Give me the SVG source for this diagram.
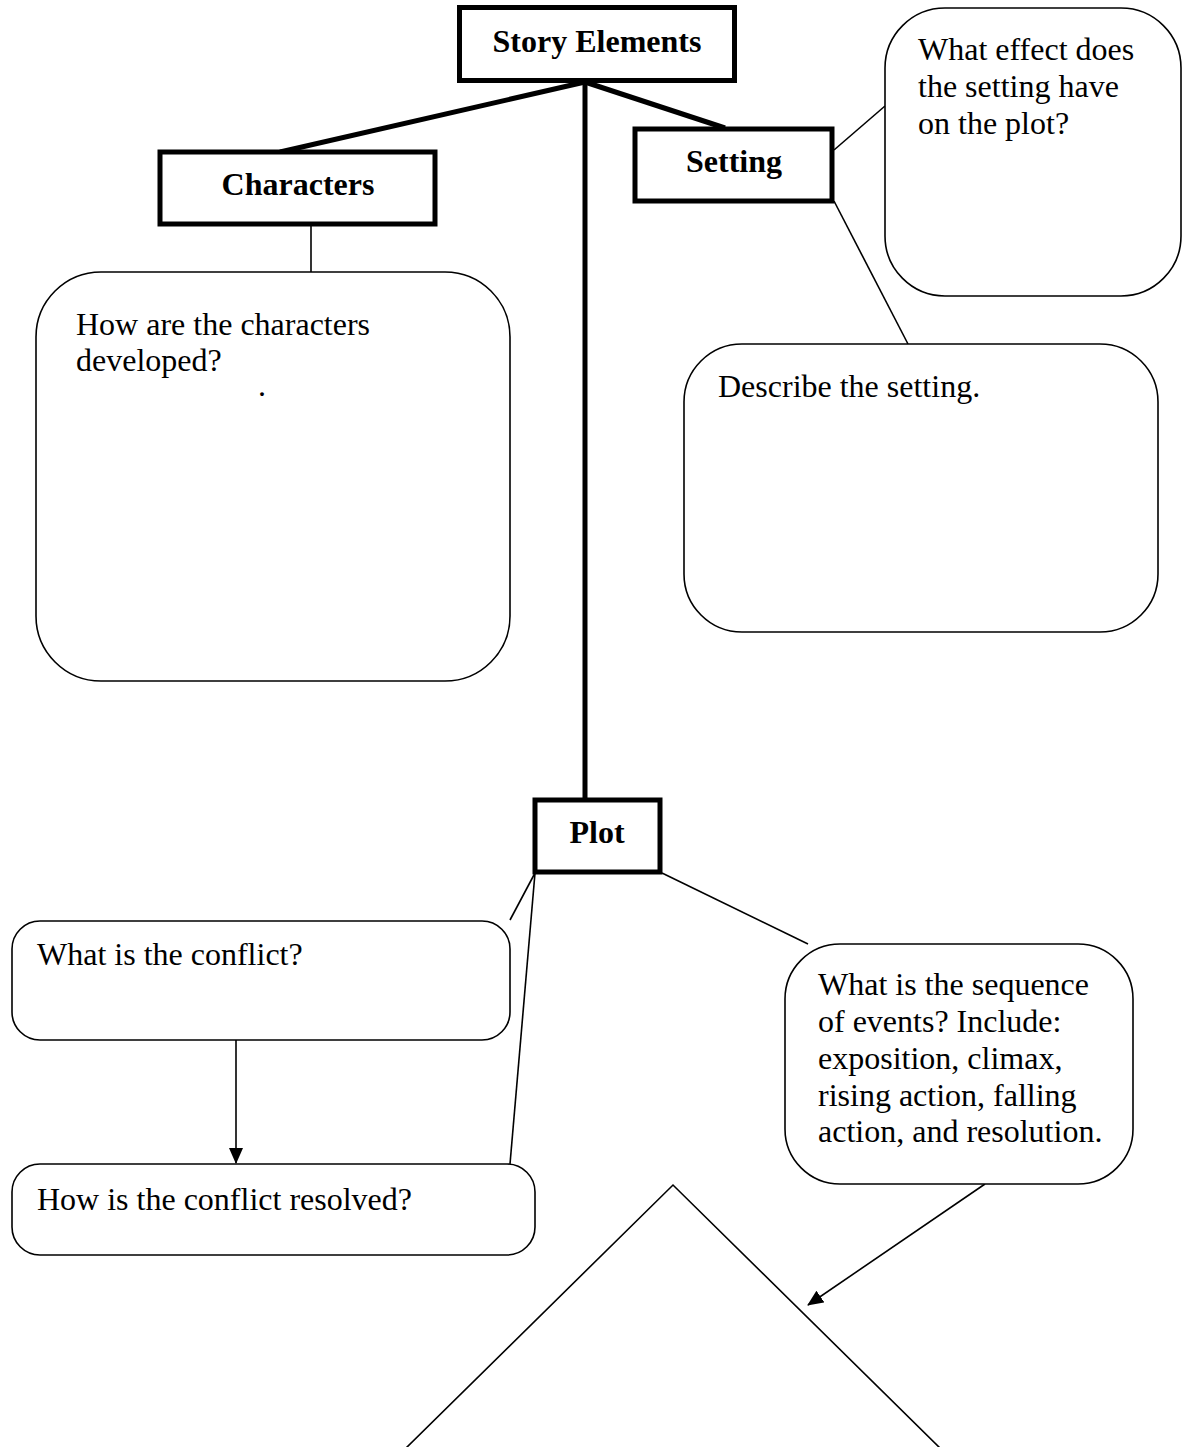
<svg xmlns="http://www.w3.org/2000/svg" width="1183" height="1447" viewBox="0 0 1183 1447">
<style>
  .bold { font-family: "Liberation Serif", "Times New Roman", serif; font-weight: bold; font-size: 32px; fill: #000; text-anchor: middle; }
  .q { font-family: "Liberation Serif", "Times New Roman", serif; font-size: 32px; fill: #000; }
  .thickbox { fill: #fff; stroke: #000; stroke-width: 5; }
  .round { fill: #fff; stroke: #000; stroke-width: 1.6; }
  .thick { stroke: #000; stroke-width: 5; fill: none; }
  .thin { stroke: #000; stroke-width: 1.6; fill: none; }
</style>
<defs>
  <marker id="arrow" markerWidth="16" markerHeight="14" refX="15" refY="7" orient="auto" markerUnits="userSpaceOnUse">
    <path d="M0,0 L16,7 L0,14 z" fill="#000"/>
  </marker>
</defs>
<rect width="1183" height="1447" fill="#fff"/>
<g id="connectors">
  <line class="thick" x1="585" y1="82" x2="280" y2="152"/>
  <line class="thick" x1="585" y1="82" x2="725" y2="128"/>
  <line class="thick" x1="585" y1="82" x2="585" y2="800"/>
  <line class="thin" x1="311" y1="226" x2="311" y2="272"/>
  <line class="thin" x1="834" y1="150" x2="885" y2="106"/>
  <line class="thin" x1="834" y1="201" x2="908" y2="344"/>
  <line class="thin" x1="535" y1="873" x2="510" y2="920"/>
  <line class="thin" x1="535" y1="873" x2="510" y2="1164"/>
  <line class="thin" x1="662" y1="873" x2="808" y2="944"/>
  <line class="thin" x1="236" y1="1040" x2="236" y2="1163" stroke-width="2" marker-end="url(#arrow)"/>
  <line class="thin" x1="985" y1="1184" x2="808" y2="1305" stroke-width="2" marker-end="url(#arrow)"/>
</g>
<g id="story-elements">
  <rect class="thickbox" x="459.5" y="7.5" width="275" height="73"/>
  <text class="bold" x="597" y="52">Story Elements</text>
</g>
<g id="characters">
  <rect class="thickbox" x="160" y="152" width="275" height="72"/>
  <text class="bold" x="298" y="195">Characters</text>
</g>
<g id="setting">
  <rect class="thickbox" x="635" y="129" width="197" height="72"/>
  <text class="bold" x="734" y="172">Setting</text>
</g>
<g id="plot">
  <rect class="thickbox" x="535" y="800" width="125" height="72"/>
  <text class="bold" x="597" y="843">Plot</text>
</g>
<g id="characters-question">
  <rect class="round" x="36" y="272" width="474" height="409" rx="65" ry="65"/>
  <text class="q" x="76" y="335">How are the characters</text>
  <text class="q" x="76" y="371">developed?</text>
  <text class="q" x="258" y="396" font-size="10">.</text>
</g>
<g id="setting-effect">
  <rect class="round" x="885" y="8" width="296" height="288" rx="60" ry="60"/>
  <text class="q" x="918" y="60">What effect does</text>
  <text class="q" x="918" y="97">the setting have</text>
  <text class="q" x="918" y="134">on the plot?</text>
</g>
<g id="setting-describe">
  <rect class="round" x="684" y="344" width="474" height="288" rx="58" ry="58"/>
  <text class="q" x="718" y="397">Describe the setting.</text>
</g>
<g id="conflict">
  <rect class="round" x="12" y="921" width="498" height="119" rx="28" ry="28"/>
  <text class="q" x="37" y="965">What is the conflict?</text>
</g>
<g id="resolved">
  <rect class="round" x="12" y="1164" width="523" height="91" rx="28" ry="28"/>
  <text class="q" x="37" y="1210">How is the conflict resolved?</text>
</g>
<g id="sequence">
  <rect class="round" x="785" y="944" width="348" height="240" rx="55" ry="55"/>
  <text class="q" x="818" y="995">What is the sequence</text>
  <text class="q" x="818" y="1032">of events? Include:</text>
  <text class="q" x="818" y="1069">exposition, climax,</text>
  <text class="q" x="818" y="1106">rising action, falling</text>
  <text class="q" x="818" y="1142">action, and resolution.</text>
</g>
<g id="plot-diagram">
  <polyline class="thin" points="402,1452 673,1185 944,1452"/>
</g>
</svg>
